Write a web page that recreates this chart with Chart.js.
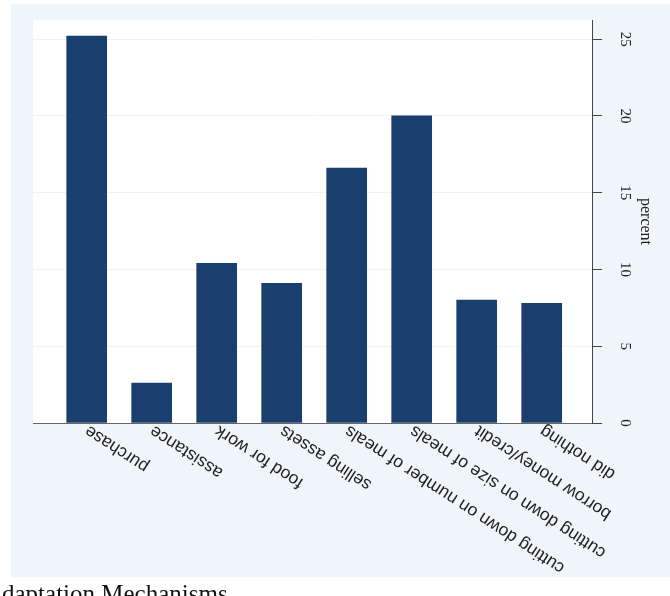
<!DOCTYPE html>
<html>
<head>
<meta charset="utf-8">
<script src="https://cdn.jsdelivr.net/npm/chart.js@4/dist/chart.umd.min.js"></script>
<style>
  body { margin: 0; background: #fff; }
  #wrap { position: relative; width: 670px; height: 596px; overflow: hidden; }
  #caption {
    position: absolute; left: 2px; top: 581px;
    font-family: "Liberation Serif", serif; font-size: 25px; line-height: 25px;
    color: #111; white-space: nowrap;
  }
</style>
</head>
<body>
<div id="wrap">
  <canvas id="chart" width="670" height="596"></canvas>
  <div id="caption">daptation Mechanisms</div>
</div>
<script>
const categories = [
  "purchase",
  "assistance",
  "food for work",
  "selling assets",
  "cutting down on number of meals",
  "cutting down on size of meals",
  "borrow money/credit",
  "did nothing",
];
const percent = [25.2, 2.6, 10.4, 9.1, 16.6, 20.0, 8.0, 7.8];
const yTicks = [0, 5, 10, 15, 20, 25];

const panel = {
  id: "panel",
  beforeDraw(chart) {
    const { ctx, chartArea } = chart;
    ctx.save();
    ctx.fillStyle = "#eff5f8";
    ctx.fillRect(11, 4, 659, 573);
    ctx.fillStyle = "#ffffff";
    ctx.fillRect(chartArea.left, chartArea.top, chartArea.right - chartArea.left, chartArea.bottom - chartArea.top);
    ctx.restore();
  },
};

new Chart(document.getElementById("chart").getContext("2d"), {
  type: "bar",
  data: {
    datasets: [
      {
        label: "percent",
        data: percent.map((v, i) => ({ x: i, y: v })),
        backgroundColor: "#1a3f6e",
        borderWidth: 0,
        barThickness: 40,
      },
    ],
  },
  options: {
    responsive: false,
    animation: false,
    layout: { padding: { left: 33, top: 20, right: 0, bottom: 0 } },
    plugins: { legend: { display: false }, tooltip: { enabled: false } },
    scales: {
      x: {
        type: "linear",
        offset: false,
        min: -0.826,
        max: 7.774,
        grid: { display: false, drawTicks: false },
        border: { color: "#666", width: 1 },
        ticks: {
          stepSize: 1,
          includeBounds: false,
          autoSkip: false,
          minRotation: 147,
          maxRotation: 147,
          padding: 15,
          color: "#222",
          font: { family: "Liberation Sans", size: 17.5 },
          callback: (v) => categories[v] ?? "",
        },
        afterFit: (s) => {
          s.height = 173;
          s.paddingLeft = 0;
          s.paddingRight = 0;
        },
      },
      y: {
        position: "right",
        min: 0,
        max: 26.25,
        afterBuildTicks: (s) => {
          s.ticks = yTicks.map((v) => ({ value: v }));
        },
        grid: { color: "#eef4f5", tickColor: "#444", tickLength: 10 },
        border: { color: "#444", width: 1 },
        ticks: {
          minRotation: -90,
          crossAlign: "center",
          padding: 15,
          color: "#222",
          font: { family: "Liberation Serif", size: 15 },
        },
        title: {
          display: true,
          text: "percent",
          color: "#222",
          padding: { top: 15, bottom: 0 },
          font: { family: "Liberation Serif", size: 16 },
        },
        afterFit: (s) => {
          s.width = 78;
          s.paddingTop = 0;
          s.paddingBottom = 0;
        },
      },
    },
  },
  plugins: [panel],
});
</script>
</body>
</html>
